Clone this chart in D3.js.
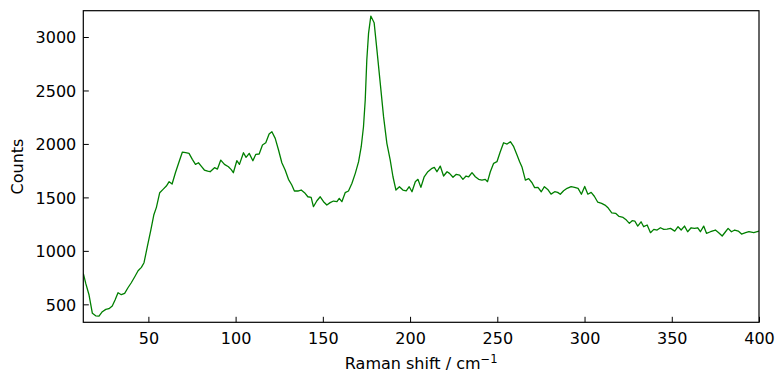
<!DOCTYPE html>
<html>
<head>
<meta charset="utf-8">
<script src="https://cdn.jsdelivr.net/npm/d3@7"></script>
<style>
  html, body { margin: 0; padding: 0; background: #fff; }
  svg { display: block; font-family: "DejaVu Sans", sans-serif; }
</style>
</head>
<body>
<svg id="chart" width="783" height="384"></svg>
<script>
// Raman shift (cm^-1)
const shift = [12.7,14.1,16.0,17.9,19.8,21.7,23.6,25.6,27.4,29.3,30.9,32.6,34.5,36.4,38.3,40.2,42.2,44.1,46.0,47.5,
  49.4,51.4,53.1,54.6,56.5,58.4,60.3,61.9,63.6,65.5,67.6,69.5,71.4,73.3,75.2,77.0,78.7,80.4,82.1,84.0,
  85.4,87.9,89.6,91.5,93.6,95.9,97.5,98.7,100.7,102.2,104.5,106.0,107.8,109.9,111.6,113.5,115.4,117.3,119.2,120.8,
  122.7,124.6,126.5,128.4,130.3,132.2,133.7,136.0,137.6,139.5,141.4,143.3,144.6,146.6,148.5,150.4,152.3,154.2,156.1,158.1,
  159.4,160.9,162.8,164.7,166.7,168.6,170.5,172.0,173.3,174.3,175.2,176.2,177.5,179.4,181.0,182.9,184.8,186.7,188.6,190.2,
  191.9,193.9,195.9,197.8,199.5,201.1,203.0,204.5,206.2,208.1,210.2,212.6,213.9,215.4,217.3,219.2,221.2,222.6,224.6,226.5,
  228.4,230.3,232.1,233.6,235.5,237.4,239.3,241.2,243.1,244.4,246.0,247.9,249.8,251.7,253.6,255.6,257.5,259.4,261.3,262.8,
  264.2,266.1,268.0,269.9,271.4,273.3,275.2,277.0,278.9,280.8,282.9,284.6,286.1,288.0,290.0,292.3,294.3,296.3,298.2,300.1,
  301.9,303.8,305.6,307.6,309.8,311.7,313.6,315.6,317.8,319.8,322.1,324.0,325.7,327.3,328.8,330.5,332.4,333.9,335.9,337.8,
  339.7,341.6,343.5,345.4,347.3,349.3,351.7,353.6,355.4,357.3,359.1,361.1,363.0,364.9,366.4,368.3,369.9,372.2,375.0,376.9,
  378.9,380.8,382.3,384.2,386.1,388.1,390.0,392.3,394.2,397.0,400.0];
// Counts
const counts = [790,696,587,416,393,390,431,453,459,484,540,609,590,603,655,702,758,814,846,889,
  1039,1195,1335,1407,1544,1575,1606,1647,1625,1731,1834,1924,1918,1912,1856,1809,1824,1790,1756,1745,
  1740,1778,1765,1849,1809,1787,1760,1731,1843,1809,1918,1875,1912,1843,1903,1906,1990,2011,2093,2114,
  2052,1943,1824,1756,1669,1616,1560,1560,1569,1544,1506,1501,1413,1469,1506,1460,1429,1451,1466,1460,
  1491,1460,1544,1560,1632,1725,1834,1974,2161,2411,2785,3034,3196,3134,2880,2569,2255,2006,1850,1693,
  1569,1600,1569,1562,1600,1553,1647,1669,1594,1693,1740,1772,1781,1740,1793,1700,1740,1725,1688,1716,
  1709,1669,1700,1693,1731,1693,1669,1662,1669,1647,1740,1819,1834,1927,2011,1999,2021,1974,1896,1834,
  1781,1662,1675,1637,1591,1594,1553,1600,1575,1531,1553,1547,1529,1562,1585,1600,1594,1585,1529,1603,
  1530,1547,1511,1455,1444,1428,1400,1355,1351,1322,1313,1288,1257,1282,1279,1232,1272,1226,1242,1170,
  1201,1195,1216,1201,1204,1210,1185,1226,1195,1232,1179,1216,1210,1216,1179,1232,1164,1179,1195,1170,
  1139,1179,1210,1179,1195,1185,1157,1170,1179,1170,1185];
const xTicks = [50,100,150,200,250,300,350,400];
const yTicks = [500,1000,1500,2000,2500,3000];
const xDomain = [12.7, 400];
const yDomain = [332, 3246];

const svg = d3.select("#chart");
const L = 83.3, R = 759, T = 10.7, B = 322.3;
const x = d3.scaleLinear().domain(xDomain).range([L, R]);
const y = d3.scaleLinear().domain(yDomain).range([B, T]);

const data = shift.map((s, i) => [s, counts[i]]);

svg.append("defs").append("clipPath").attr("id", "clip")
  .append("rect").attr("x", L).attr("y", T).attr("width", R - L).attr("height", B - T);

svg.append("path")
  .datum(data)
  .attr("clip-path", "url(#clip)")
  .attr("fill", "none")
  .attr("stroke", "#007f00")
  .attr("stroke-width", 1.3)
  .attr("stroke-linejoin", "round")
  .attr("d", d3.line().x(d => x(d[0])).y(d => y(d[1])));

// axes (ticks inward)
const fmt = d3.format("d");
const xAxis = d3.axisBottom(x).tickValues(xTicks).tickFormat(fmt).tickSizeInner(-5.5).tickSizeOuter(0).tickPadding(10);
const yAxis = d3.axisLeft(y).tickValues(yTicks).tickFormat(fmt).tickSizeInner(-5.5).tickSizeOuter(0).tickPadding(7);

const gx = svg.append("g").attr("transform", `translate(0,${B})`).call(xAxis);
const gy = svg.append("g").attr("transform", `translate(${L},0)`).call(yAxis);
[gx, gy].forEach(g => {
  g.select(".domain").remove();
  g.selectAll(".tick line").attr("stroke", "#000").attr("stroke-width", 1);
  g.selectAll(".tick text").attr("fill", "#000").style("font-size", "16px")
    .style("font-family", "'DejaVu Sans', sans-serif");
});
gx.selectAll(".tick text").attr("dy", "0.72em");
gy.selectAll(".tick text").attr("dy", "0.36em");

// frame
svg.append("rect").attr("x", L).attr("y", T).attr("width", R - L).attr("height", B - T)
  .attr("fill", "none").attr("stroke", "#000").attr("stroke-width", 1.2);

// labels
const xl = svg.append("text").attr("x", (L + R) / 2).attr("y", 369).attr("text-anchor", "middle")
  .style("font-size", "16px").attr("fill", "#000");
xl.append("tspan").text("Raman shift / cm");
xl.append("tspan").text("\u22121").style("font-size", "11.5px").attr("dy", "-6");

svg.append("text").attr("transform", `translate(23,${(T + B) / 2}) rotate(-90)`)
  .attr("text-anchor", "middle").style("font-size", "16px").attr("fill", "#000").text("Counts");
</script>
</body>
</html>
